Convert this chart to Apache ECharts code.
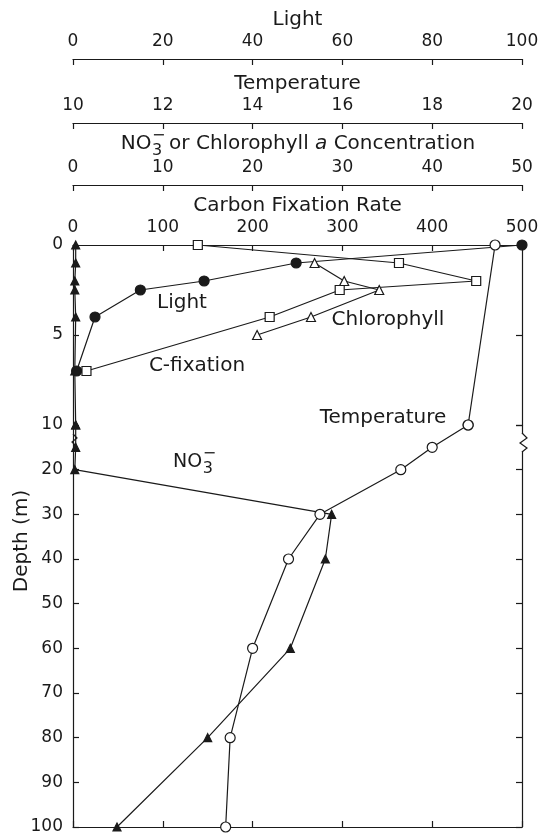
<!DOCTYPE html>
<html><head><meta charset="utf-8">
<script src="https://cdn.jsdelivr.net/npm/echarts@6/dist/echarts.min.js"></script>
<style>html,body{margin:0;padding:0;background:#fff}#c{width:555px;height:836px}</style>
</head><body><div id="c"></div>
<script>
// ---- data ----
const lightDepth = [0, 1, 2, 2.5, 4, 7];
const lightValues = [100, 49.7, 29.2, 15.0, 4.9, 0.8];
const cfixDepth = [0, 1, 2, 2.5, 4, 7];
const cfixValues = [139, 363, 449, 297, 219, 15];
const chlDepth = [1, 2, 2.5, 4, 5];
const chlValues = [26.9, 30.2, 34.1, 26.5, 20.5];
const no3Depth = [0, 1, 2, 2.5, 4, 7, 10, 15, 20, 30, 40, 60, 80, 100];
const no3Values = [0.3, 0.3, 0.2, 0.2, 0.3, 0.2, 0.3, 0.3, 0.2, 28.8, 28.1, 24.2, 15.0, 4.9];
const tempDepth = [0, 10, 15, 20, 30, 40, 60, 80, 100];
const tempValues = [19.4, 18.8, 18.0, 17.3, 15.5, 14.8, 14.0, 13.5, 13.4];
// axis tick labels
const lightTicks = [0, 20, 40, 60, 80, 100];
const tempTicks = [10, 12, 14, 16, 18, 20];
const concTicks = [0, 10, 20, 30, 40, 50];
const cfixTicks = [0, 100, 200, 300, 400, 500];
const upperDepthTicks = [0, 5, 10];
const lowerDepthTicks = [10, 20, 30, 40, 50, 60, 70, 80, 90, 100];

// ---- layout / style ----
const INK = '#1a1a1a';
const FF = '"DejaVu Sans", sans-serif';
const L = 73, R = 522, TOP = 245, MID = 425, BOT = 827;

const cv = document.createElement('canvas').getContext('2d');
function tw(t, size, style) { cv.font = (style ? style + ' ' : '') + size + 'px "DejaVu Sans"'; return cv.measureText(t).width; }

function seg(depths, vals, lo, hi) {
  const out = [];
  for (let i = 0; i < depths.length; i++) if (depths[i] >= lo && depths[i] <= hi) out.push([vals[i], depths[i]]);
  return out;
}
function rng(t) { return { min: t[0], max: t[t.length - 1], interval: t[1] - t[0] }; }

const lineCommon = { color: INK, width: 1.2 };
function xTop(ticks, offset, name, showName) {
  return Object.assign({
    type: 'value', gridIndex: 0, position: 'top', offset: offset,
    name: showName ? name : '', nameLocation: 'middle', nameGap: 29,
    nameTextStyle: { color: INK, fontSize: 20, fontFamily: FF },
    axisLine: { show: true, onZero: false, lineStyle: lineCommon },
    axisTick: { show: true, inside: true, length: 6, lineStyle: lineCommon },
    axisLabel: { show: true, color: INK, fontSize: 17, fontFamily: FF, margin: 9 },
    splitLine: { show: false }
  }, rng(ticks));
}

const xAxis = [
  xTop(cfixTicks, 0, 'Carbon Fixation Rate', true),
  xTop(concTicks, 60, '', false),
  xTop(tempTicks, 122, 'Temperature', true),
  xTop(lightTicks, 186, 'Light', true),
  Object.assign({
    type: 'value', gridIndex: 1, position: 'bottom',
    axisLine: { show: true, onZero: false, lineStyle: lineCommon },
    axisTick: { show: true, inside: true, length: 6, lineStyle: lineCommon },
    axisLabel: { show: false }, splitLine: { show: false }
  }, rng(cfixTicks)),
  Object.assign({ type: 'value', gridIndex: 1, show: false }, rng(tempTicks)),
  Object.assign({ type: 'value', gridIndex: 1, show: false }, rng(concTicks))
];

function yAx(grid, ticks, pos, labels, extra) {
  return Object.assign({
    type: 'value', gridIndex: grid, position: pos, inverse: true,
    axisLine: { show: true, onZero: false, lineStyle: lineCommon },
    axisTick: { show: true, inside: true, length: 6, lineStyle: lineCommon },
    axisLabel: Object.assign({ show: labels, color: INK, fontSize: 17, fontFamily: FF, margin: 10 }, extra || {}),
    splitLine: { show: false }
  }, rng(ticks));
}
const yAxis = [
  yAx(0, upperDepthTicks, 'left', true, { showMaxLabel: false }),
  yAx(0, upperDepthTicks, 'right', false),
  yAx(1, lowerDepthTicks, 'left', true),
  yAx(1, lowerDepthTicks, 'right', false)
];

function ser(data, xi, yi, symbol, size, fill, z) {
  return {
    type: 'line', data: data, xAxisIndex: xi, yAxisIndex: yi,
    symbol: symbol, symbolSize: size, showAllSymbol: true, clip: false,
    lineStyle: { color: INK, width: 1.2 },
    itemStyle: { color: fill, borderColor: INK, borderWidth: 1.2 },
    emphasis: { disabled: true }, animation: false, z: z || 2
  };
}

const series = [
  ser(seg(no3Depth, no3Values, 0, 10), 1, 0, 'triangle', 8, INK),
  ser(seg(no3Depth, no3Values, 10, 100), 6, 2, 'triangle', 8, INK),
  ser(seg(tempDepth, tempValues, 0, 10), 2, 0, 'circle', 10, '#fff'),
  ser(seg(tempDepth, tempValues, 10, 100), 5, 2, 'circle', 10, '#fff'),
  ser(seg(lightDepth, lightValues, 0, 10), 3, 0, 'circle', 10, INK),
  ser(seg(cfixDepth, cfixValues, 0, 10), 0, 0, 'rect', 9, '#fff', 3),
  ser(seg(chlDepth, chlValues, 0, 10), 1, 0, 'triangle', 9, '#fff', 3)
];

// ---- text graphics ----
function txt(t, x, y, size, align, extra) {
  return Object.assign({
    type: 'text', x: x, y: y, z: 50,
    style: { text: t, fill: INK, font: size + 'px ' + FF, textAlign: align || 'center', textVerticalAlign: 'middle' }
  }, extra || {});
}
function no3Parts(xLeft, y, size, subSize) {
  const wNO = tw('NO', size);
  return [
    txt('NO', xLeft, y, size, 'left'),
    txt('3', xLeft + wNO + 0.5, y + 7, subSize, 'left'),
    txt('\u2212', xLeft + wNO + 0.5, y - 8, subSize, 'left')
  ];
}
const graphics = [];
// NO3 or Chlorophyll a Concentration title (centered at x=300, y=144)
(function () {
  const s = 20, ss = 16, ty = 144;
  const wNO = tw('NO', s), w3 = tw('3', ss), wsp = tw(' ', s);
  const w1 = tw('or Chlorophyll', s), wa = tw('a', s, 'italic'), w2 = tw('Concentration', s);
  const total = wNO + w3 + wsp + w1 + wsp + wa + wsp + w2;
  let x = (L + R) / 2 - total / 2;
  no3Parts(x, ty, s, ss).forEach(g => graphics.push(g));
  x += wNO + w3 + wsp + 1;
  graphics.push(txt('or Chlorophyll', x, ty, s, 'left'));
  x += w1 + wsp;
  graphics.push({ type: 'text', x: x, y: ty, z: 50, style: { text: 'a', fill: INK, font: 'italic ' + s + 'px ' + FF, textAlign: 'left', textVerticalAlign: 'middle' } });
  x += wa + wsp;
  graphics.push(txt('Concentration', x, ty, s, 'left'));
})();
graphics.push(txt('Light', 182, 303, 20));
graphics.push(txt('C-fixation', 197, 366, 20));
graphics.push(txt('Chlorophyll', 388, 320, 20));
graphics.push(txt('Temperature', 383, 418, 20));
no3Parts(173, 462, 19, 16).forEach(g => graphics.push(g));
graphics.push(txt('Depth (m)', 22, 541, 20, 'center', { rotation: Math.PI / 2 }));
// axis break marks
graphics.push({ type: 'rect', z: 40, shape: { x: R - 2, y: 434, width: 4, height: 17 }, style: { fill: '#fff' } });
graphics.push({ type: 'polyline', z: 41, shape: { points: [[R, 433], [R + 5, 438], [R - 2, 443], [R + 5, 448], [R, 452]] }, style: { stroke: INK, lineWidth: 1.2, fill: null } });
graphics.push({ type: 'polyline', z: 41, shape: { points: [[L, 434], [L + 4, 438], [L - 1, 442], [L + 3, 446]] }, style: { stroke: INK, lineWidth: 1.2, fill: null } });

const chart = echarts.init(document.getElementById('c'), null, { renderer: 'canvas' });
chart.setOption({
  animation: false,
  backgroundColor: '#fff',
  grid: [
    { left: L, top: TOP, width: R - L, height: MID - TOP, containLabel: false },
    { left: L, top: MID, width: R - L, height: BOT - MID, containLabel: false }
  ],
  xAxis: xAxis,
  yAxis: yAxis,
  series: series,
  graphic: { elements: graphics }
});
</script></body></html>
